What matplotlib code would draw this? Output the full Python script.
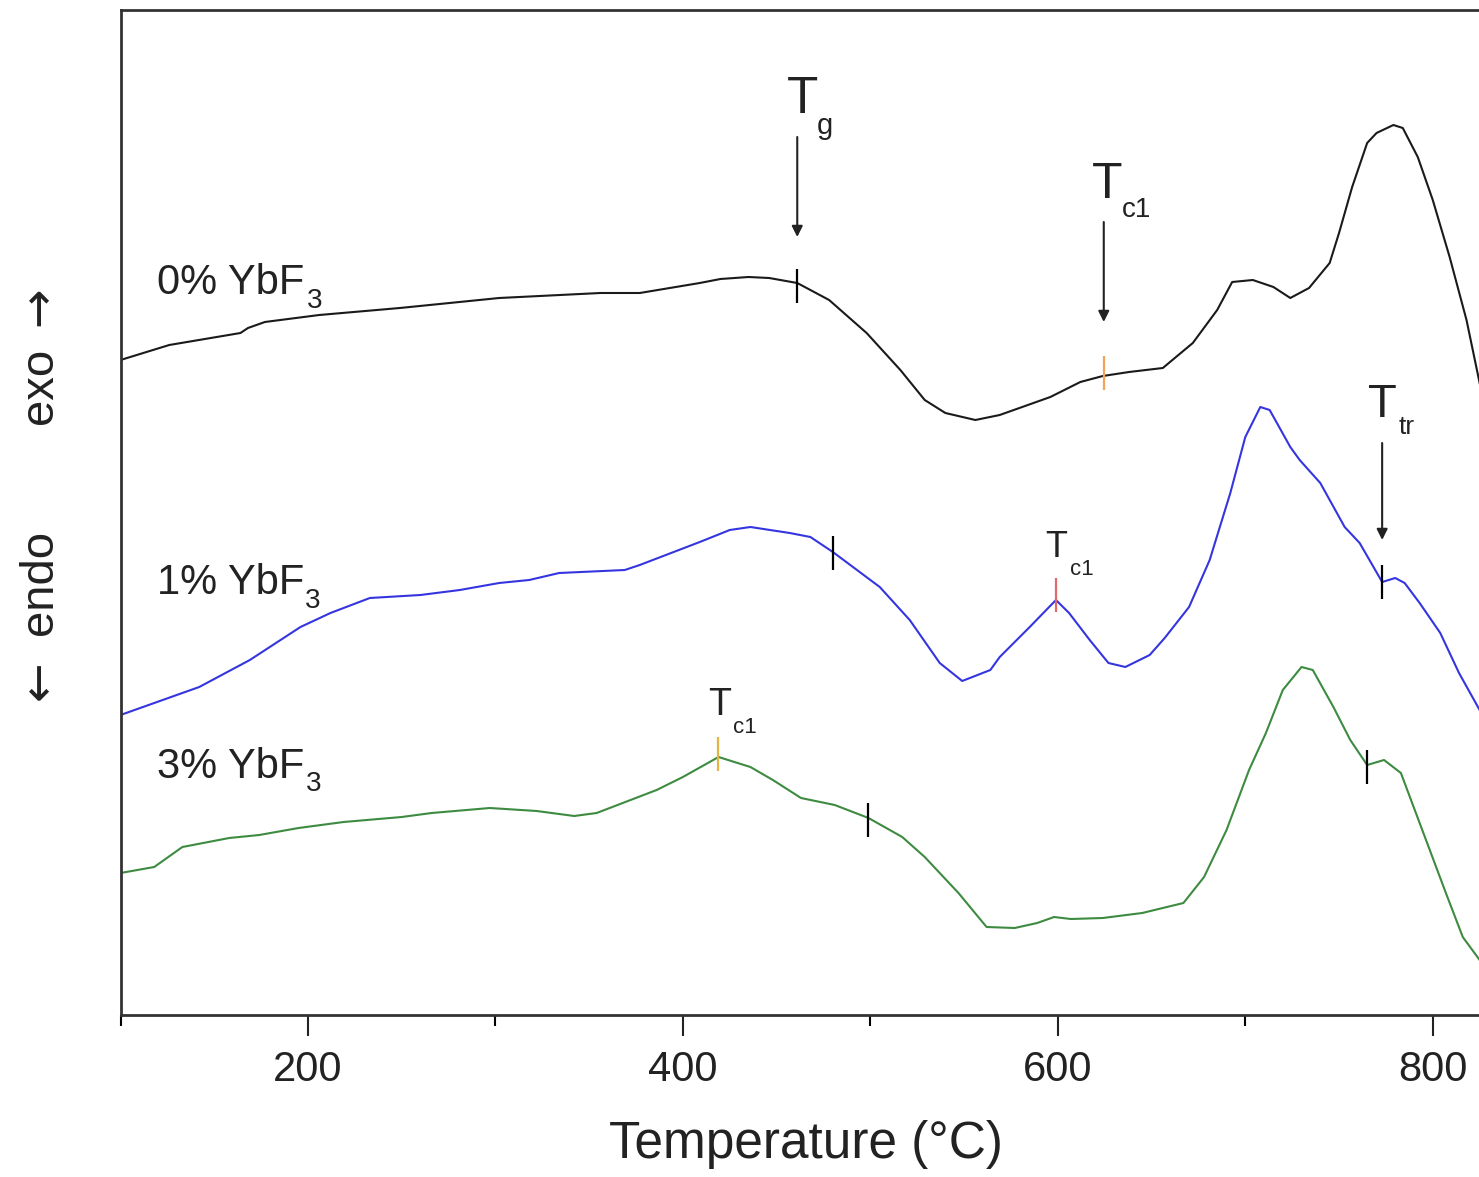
import numpy as np
import matplotlib
matplotlib.use('Agg')
import matplotlib.pyplot as plt

plt.rcParams['font.family'] = ['Liberation Sans', 'DejaVu Sans']
plt.rcParams['mathtext.default'] = 'regular'

# DSC curves, temperature (C) vs heat flow (arb. units, offset per sample)
temp0 = [100, 126, 164, 168, 177, 206, 249, 302, 356, 377, 409, 420, 435, 446, 461, 478,
         498, 516, 529, 540, 556, 569, 596, 612, 624, 638, 656, 672, 685, 693, 704,
         715, 724, 734, 745, 750, 757, 765, 770, 779, 784, 792, 800, 809, 818, 825]
dsc0 = [65.5, 67.0, 68.2, 68.7, 69.3, 70.0, 70.7, 71.7, 72.2, 72.2, 73.2, 73.6, 73.8, 73.7, 73.2, 71.5,
        68.2, 64.5, 61.5, 60.2, 59.5, 60.0, 61.8, 63.3, 63.9, 64.3, 64.7, 67.2, 70.5, 73.3, 73.5,
        72.8, 71.7, 72.7, 75.2, 78.2, 82.8, 87.2, 88.2, 89.0, 88.7, 85.8, 81.5, 75.8, 69.5, 63.2]

temp1 = [100, 142, 169, 196, 212, 233, 260, 281, 302, 318, 334, 369, 377, 409, 425, 436, 457,
         468, 480, 505, 521, 537, 549, 564, 569, 585, 599, 606, 617, 627, 636, 649, 657, 670,
         681, 692, 700, 708, 713, 724, 729, 740, 753, 761, 773, 780, 785, 793, 804, 814, 825]
dsc1 = [30.0, 32.8, 35.5, 38.8, 40.2, 41.7, 42.0, 42.5, 43.2, 43.5, 44.2, 44.5, 45.0, 47.3, 48.5,
        48.8, 48.2, 47.8, 46.3, 42.8, 39.5, 35.2, 33.4, 34.5, 35.8, 38.8, 41.5, 40.2, 37.5, 35.2,
        34.8, 36.0, 37.7, 40.8, 45.5, 52.2, 57.8, 60.8, 60.5, 56.8, 55.5, 53.2, 48.8, 47.2, 43.3,
        43.7, 43.2, 41.2, 38.2, 34.2, 30.5]

temp3 = [100, 118, 133, 158, 174, 195, 219, 250, 266, 297, 322, 342, 354, 386, 400, 419, 436,
         448, 463, 481, 499, 517, 529, 547, 562, 577, 589, 598, 607, 624, 645, 667, 678, 690,
         702, 711, 720, 730, 736, 747, 756, 765, 774, 783, 795, 807, 816, 825]
dsc3 = [14.2, 14.8, 16.8, 17.7, 18.0, 18.7, 19.3, 19.8, 20.2, 20.7, 20.4, 19.9, 20.2, 22.5, 23.8,
        25.8, 24.8, 23.5, 21.7, 21.0, 19.7, 17.8, 15.8, 12.2, 8.8, 8.7, 9.2, 9.8, 9.6, 9.7, 10.2,
        11.2, 13.8, 18.5, 24.5, 28.2, 32.5, 34.8, 34.5, 30.8, 27.5, 25.0, 25.5, 24.2, 18.2, 12.2,
        7.8, 5.5]

curve_colors = ['#1a1a1a', '#3535e0', '#3d8b40']

# short vertical markers on the curves (temperature, level, colour)
mark_t = [461, 624.5, 480, 599, 773, 418.7, 499, 765]
mark_y = [72.9, 64.2, 46.2, 42.0, 43.3, 26.1, 19.5, 24.8]
mark_c = ['k', '#f2a55a', 'k', '#e06a6a', 'k', '#e3b543', 'k', 'k']

# arrows (temperature, start, end)
arrow_t = [461, 624.5, 773]
arrow_y0 = [87.8, 79.3, 57.2]
arrow_y1 = [77.8, 69.3, 47.5]

# labels: main part and subscript
main_text = ['0% YbF', '1% YbF', '3% YbF', 'T', 'T', 'T', 'T', 'T']
main_x = [119.5, 119.5, 119.5, 455.6, 618.1, 593.1, 413.3, 765.3]
main_y = [75.2, 45.2, 26.8, 94.0, 85.3, 48.5, 32.8, 63.2]
main_size = [30, 30, 30, 37, 36, 26, 27, 34]
sub_text = ['3', '3', '3', 'g', 'c1', 'c1', 'c1', 'tr']
sub_x = [199.6, 198.6, 198.8, 471.4, 634.1, 606.4, 426.7, 781.6]
sub_y = [72.7, 42.7, 24.4, 90.3, 81.8, 45.6, 29.8, 60.0]
sub_size = [20, 20, 20, 21, 20, 16, 16, 19]

fig = plt.figure(figsize=(14.79, 11.77), dpi=100)
ax = fig.add_axes([120.5 / 1479, 162 / 1177, 1406 / 1479, 1005 / 1177])

for t, d, c in zip([temp0, temp1, temp3], [dsc0, dsc1, dsc3], curve_colors):
    ax.plot(t, d, color=c, lw=1.5)

for t, y, c in zip(mark_t, mark_y, mark_c):
    ax.vlines(t, y - 1.7, y + 1.7, color=c, lw=1.6)

for t, y0, y1 in zip(arrow_t, arrow_y0, arrow_y1):
    ax.annotate('', xy=(t, y1), xytext=(t, y0),
                arrowprops=dict(arrowstyle='-|>', color='#222222', lw=1.5,
                                mutation_scale=16, shrinkA=0, shrinkB=0))

for s, x, y, fs in zip(main_text, main_x, main_y, main_size):
    ax.text(x, y, s, fontsize=fs, va='top', ha='left', color='#222222')
for s, x, y, fs in zip(sub_text, sub_x, sub_y, sub_size):
    ax.text(x, y, s, fontsize=fs, va='top', ha='left', color='#222222')

ax.set_xlim(100, 850)
ax.set_ylim(0, 100.5)
ax.set_yticks([])
ax.set_xticks([200, 400, 600, 800])
ax.set_xticks([100, 300, 500, 700], minor=True)
ax.tick_params(axis='x', which='major', direction='out', length=15, width=1.5,
               labelsize=30, pad=10, colors='#222222')
ax.tick_params(axis='x', which='minor', direction='out', length=8, width=1.5)
for sp in ax.spines.values():
    sp.set_linewidth(2)
    sp.set_color('#333333')
ax.set_xlabel('Temperature (\u00b0C)', fontsize=37, labelpad=18, color='#222222')
ax.xaxis.set_label_coords((806 - 120.5) / 1406, -0.104)

# y axis direction labels
fig.text(40 / 1479, 1 - 386 / 1177, 'exo', rotation=90, fontsize=34,
         ha='center', va='center', color='#222222')
fig.text(40 / 1479, 1 - 306 / 1177, '\u2192', rotation=90, fontsize=34,
         ha='center', va='center', color='#222222', family='DejaVu Sans')
fig.text(40 / 1479, 1 - 582 / 1177, 'endo', rotation=90, fontsize=34,
         ha='center', va='center', color='#222222')
fig.text(40 / 1479, 1 - 680 / 1177, '\u2190', rotation=90, fontsize=34,
         ha='center', va='center', color='#222222', family='DejaVu Sans')

fig.savefig('out.png', dpi=100)
